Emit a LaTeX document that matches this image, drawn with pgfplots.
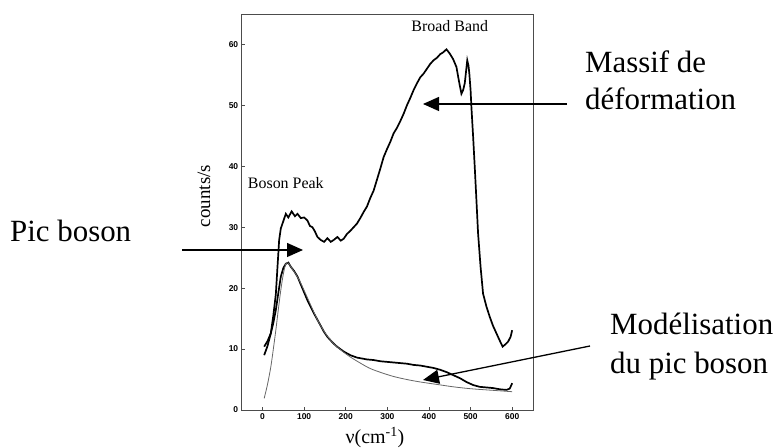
\documentclass[border=0pt]{standalone}
\usepackage{fontspec}
\setmainfont{Liberation Serif}
\newfontfamily\sansfont{Liberation Sans}
\usepackage{pgfplots}
\pgfplotsset{compat=1.18}
\usetikzlibrary{arrows.meta}
\begin{document}
\begin{tikzpicture}[x=1bp,y=1bp]
\useasboundingbox (0,0) rectangle (780,448);
\begin{axis}[
  at={(241.7bp,38bp)}, anchor=south west, scale only axis,
  width=291.3bp, height=396bp,
  xmin=-50, xmax=650, ymin=0, ymax=65,
  xtick={0,100,...,600}, ytick={0,10,...,60},
  tick align=inside, xtick pos=bottom, ytick pos=left,
  major tick length=3bp,
  tick style={black!70, line width=0.5bp},
  axis line style={black!70, line width=0.7bp},
  ticklabel style={font=\sansfont\bfseries\fontsize{8.5}{10}\selectfont},
  /pgf/number format/assume math mode=true,
  clip=false,
]
% total spectrum
\addplot[black, line width=1.7bp] coordinates {
(4,9.0) (12,10.5) (20,12.6) (26,15.5) (32,19) (36,23.5) (40,27.9) (44,29.8) (48,30.6)
(56,32.2) (62,31.6) (70,32.6) (78,31.8) (84,32.2) (92,31.5) (100,31.6) (108,31.1)
(114,30.2) (120,30) (126,29.3) (132,28.4) (140,27.9) (148,27.6) (156,28.2) (164,27.6)
(171,27.9) (180,28.4) (188,27.8) (195,28.1) (203,28.9) (211,29.4) (219,30) (227,30.6)
(235,31.5) (243,32.5) (251,33.4) (259,34.8) (267,36) (275,37.8) (283,39.6) (291,41.5)
(299,42.8) (307,44.0) (315,45.4) (323,46.3) (331,47.4) (339,48.6) (347,50.0) (355,51.2)
(363,52.5) (371,53.6) (379,54.6) (387,55.2) (395,56.0) (403,56.8) (411,57.4) (419,57.8)
(427,58.4) (434,58.7) (442,59.2) (450,58.5) (458,57.6) (466,56.3) (472,54.0) (478,51.9)
(482,52.5) (486,53.6) (489,55.5) (492,57.4) (495,56.5) (497,55.2) (500,52.5) (502,49.7)
(506,45) (510,39.9) (514,34.5) (518,29) (524,23.5) (530,19.1) (538,17.0) (546,15.3)
(554,13.8) (562,12.6) (570,11.4) (577,10.4) (584,10.8) (590,11.2) (596,12.0) (600,13.1)
};
% boson peak data
\addplot[black, line width=1.7bp] coordinates {
(4,10.4) (12,11.3) (20,12.6) (26,14.3) (32,16.4) (38,19.2) (44,21.9) (50,23.3) (56,24)
(62,24.2) (68,23.5) (76,22.8) (84,21.9) (92,20.6) (100,19.3) (108,18) (116,16.9)
(124,15.8) (132,14.8) (140,13.8) (148,12.8) (156,12) (164,11.4) (171,10.9) (179,10.4)
(187,10.0) (195,9.6) (203,9.3) (211,9.0) (219,8.8) (227,8.6) (235,8.5) (251,8.3)
(267,8.2) (283,8.0) (299,7.9) (315,7.8) (331,7.7) (347,7.6) (363,7.4) (379,7.3)
(395,7.1) (411,6.9) (427,6.6) (443,6.2) (459,5.7) (475,5.2) (490,4.6) (506,4.1)
(522,3.8) (538,3.7) (554,3.6) (570,3.4) (586,3.3) (594,3.5) (600,4.4)
};
% model
\addplot[black!60, line width=0.8bp, smooth] coordinates {
(4,1.9) (12,4.2) (20,7.1) (26,10.0) (32,13.1) (38,16.5) (44,19.7) (50,22.3) (56,24)
(62,24.1) (68,23.5) (80,22.3) (92,20.8) (112,17.8) (132,14.8) (151,12.6) (171,10.9)
(191,9.7) (211,8.7) (235,7.7) (259,6.8) (287,6.1) (315,5.5) (347,5.0) (379,4.6)
(419,4.2) (459,3.8) (499,3.5) (538,3.3) (570,3.15) (600,3.0)
};
\node[font=\fontsize{16}{18}\selectfont] at (axis cs:450,63.1) {Broad Band};
\node[font=\fontsize{16}{18}\selectfont] at (axis cs:56,37.2) {Boson Peak};
\end{axis}
% axis labels
\node[anchor=base, font=\fontsize{20}{22}\selectfont] at (375,4) {ν(cm\textsuperscript{-1})};
\node[rotate=90, font=\fontsize{19}{21}\selectfont] at (204,252) {counts/s};
% annotations
\begin{scope}[font=\fontsize{31}{34}\selectfont]
\node[anchor=base west, inner sep=0pt] at (10,206) {Pic boson};
\node[anchor=base west, inner sep=0pt] at (585,375) {Massif de};
\node[anchor=base west, inner sep=0pt] at (585,338) {déformation};
\node[anchor=base west, inner sep=0pt] at (610,113) {Modélisation};
\node[anchor=base west, inner sep=0pt] at (610,74) {du pic boson};
\end{scope}
\begin{scope}[line width=1.3bp, -{Triangle[length=16bp,width=14bp]}]
\draw (182,198) -- (303,198);
\draw (567,344) -- (423,344);
\draw (590,102) -- (423,68);
\end{scope}
\end{tikzpicture}
\end{document}
